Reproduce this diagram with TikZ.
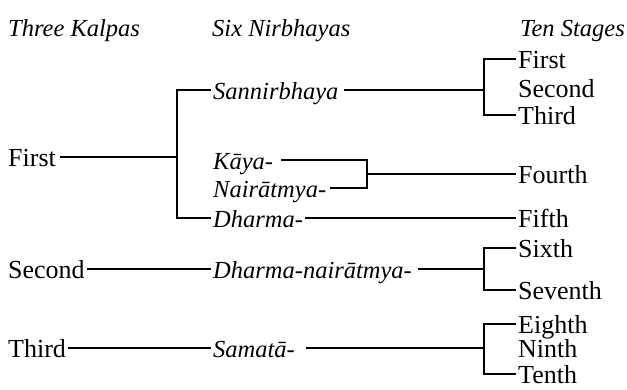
\documentclass[tikz,border=0pt]{standalone}
\usepackage{fontspec}
\setmainfont{Liberation Serif}
\begin{document}
\begin{tikzpicture}[x=1pt,y=-1pt,
  lab/.style={anchor=west,inner xsep=2pt,inner ysep=0pt,text height=18pt,text depth=0pt,font=\fontsize{26}{30}\selectfont},
  ilab/.style={lab,font=\fontsize{24.5}{28}\selectfont\itshape},
  conn/.style={line width=1.2pt}]
\useasboundingbox[fill=white] (0,0) rectangle (627,389);
% headers
\node[ilab] (h1) at (6,27) {Three Kalpas};
\node[ilab] (h2) at (210,27) {Six Nirbhayas};
\node[ilab,anchor=east] (h3) at (627,27) {Ten Stages};
% kalpas
\node[lab] (k1) at (6,157) {First};
\node[lab] (k2) at (6,269) {Second};
\node[lab] (k3) at (6,348) {Third};
% nirbhayas
\node[ilab] (n1) at (211,90) {Sannirbhaya};
\node[ilab] (n2) at (211,160) {Kāya-};
\node[ilab] (n3) at (211,188) {Nairātmya-};
\node[ilab] (n4) at (211,218) {Dharma-};
\node[ilab] (n5) at (211,269) {Dharma-nairātmya-};
\node[ilab] (n6) at (211,348) {Samatā-};
% stages
\node[lab] (s1) at (516,59) {First};
\node[lab] (s2) at (516,88) {Second};
\node[lab] (s3) at (516,115) {Third};
\node[lab] (s4) at (516,174) {Fourth};
\node[lab] (s5) at (516,218) {Fifth};
\node[lab] (s6) at (516,248) {Sixth};
\node[lab] (s7) at (516,290) {Seventh};
\node[lab] (s8) at (516,324) {Eighth};
\node[lab] (s9) at (516,348) {Ninth};
\node[lab] (s10) at (516,374) {Tenth};
% bracket coordinates
\coordinate (lb) at (177,0);
\coordinate (rb) at (484,0);
\coordinate (kb) at (367,0);
% first kalpa
\draw[conn] ([xshift=2pt]k1.east) -- (k1.east -| lb);
\draw[conn] (n1.west) -- (n1.west -| lb) -- (n4.west -| lb) -- (n4.west);
\draw[conn] ([xshift=3pt]n1.east) -- (n1.east -| rb);
\draw[conn] (s1.west) -- (s1.west -| rb) -- (s3.west -| rb) -- (s3.west);
\draw[conn] ([xshift=6pt]n2.east) -- (n2.east -| kb) -- (n3.east -| kb) -- ([xshift=2pt]n3.east);
\draw[conn] (s4.west -| kb) -- (s4.west);
\draw[conn] (n4.east) -- (s5.west);
% second kalpa
\draw[conn] (k2.east) -- (n5.west);
\draw[conn] ([xshift=4pt]n5.east) -- (n5.east -| rb);
\draw[conn] (s6.west) -- (s6.west -| rb) -- (s7.west -| rb) -- (s7.west);
% third kalpa
\draw[conn] (k3.east) -- (n6.west);
\draw[conn] ([xshift=9pt]n6.east) -- (n6.east -| rb);
\draw[conn] (s8.west) -- (s8.west -| rb) -- (s10.west -| rb) -- (s10.west);
\end{tikzpicture}
\end{document}
